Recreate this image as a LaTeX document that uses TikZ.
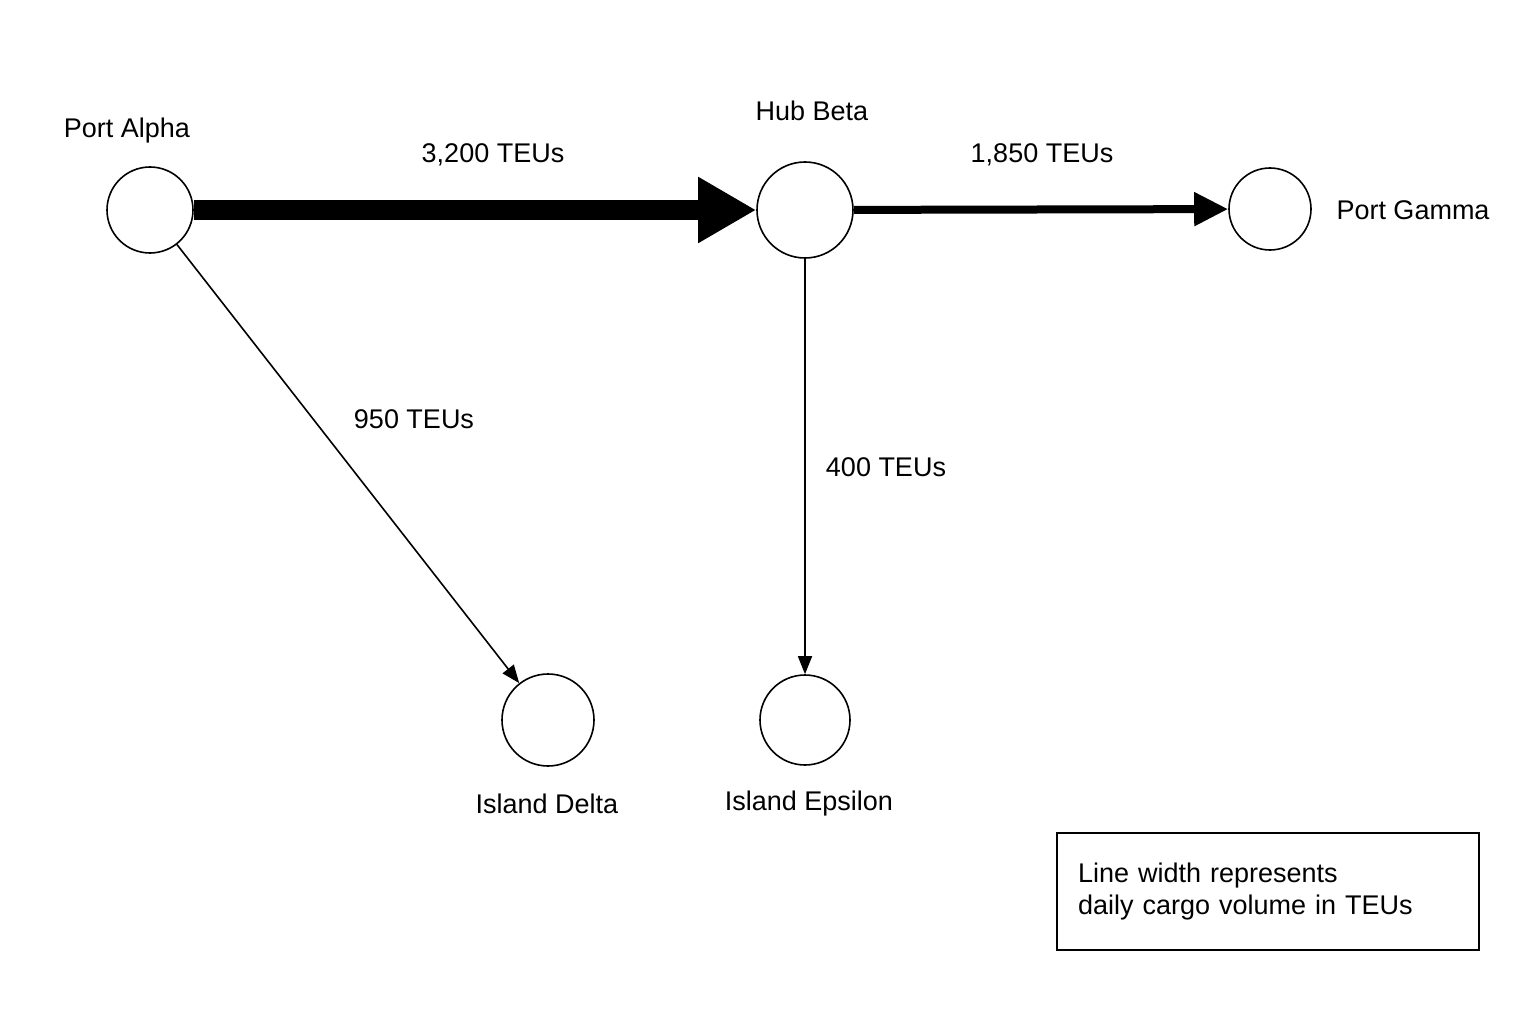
\documentclass[tikz,border=0pt]{standalone}
\usepackage{fontspec}
\setmainfont{Liberation Sans}
\usetikzlibrary{arrows.meta}
\begin{document}
\begin{tikzpicture}[x=1pt,y=-1pt,
  port/.style={circle,draw,line width=1.6pt,fill=white,inner sep=0pt},
  lbl/.style={font=\fontsize{27}{32}\selectfont},
  flow/.style={draw,black}]
\useasboundingbox (0,0) rectangle (1536,1024);
\fill[white] (0,0) rectangle (1536,1024);
\node[port,minimum size=86] (a) at (150,210) {};
\node[port,minimum size=96] (b) at (805,210) {};
\node[port,minimum size=82] (g) at (1270,209) {};
\node[port,minimum size=92] (d) at (548,720) {};
\node[port,minimum size=90] (e) at (805,720) {};
\node[lbl] (la) at (127,131) {Port Alpha};
\node[lbl] (lb) at (812,111) {Hub Beta};
\node[lbl] (lg) at (1413,210) {Port Gamma};
\node[lbl] (ld) at (547,804) {Island Delta};
\node[lbl] (le) at (809,804) {Island Epsilon};
\draw[line width=20pt,-{Triangle[length=58pt,width=62pt]}] (a) -- (b);
\draw[line width=8pt,-{Triangle[length=34pt,width=32pt]}] (b) -- (g);
\draw[line width=1.6pt,-{Triangle[length=18pt,width=14pt]}] (a) -- (d);
\draw[line width=1.6pt,-{Triangle[length=18pt,width=14pt]}] (b) -- (e);
\node[lbl] (t1) at (493,155) {3,200 TEUs};
\node[lbl] (t2) at (1042,155) {1,850 TEUs};
\node[lbl] (t3) at (414,419) {950 TEUs};
\node[lbl] (t4) at (886,467) {400 TEUs};
\node[draw,line width=1.6pt,minimum width=422,minimum height=117,lbl,align=left,text width=380] (leg) at (1268,891.5) {Line width represents\\daily cargo volume in TEUs};
\end{tikzpicture}
\end{document}
